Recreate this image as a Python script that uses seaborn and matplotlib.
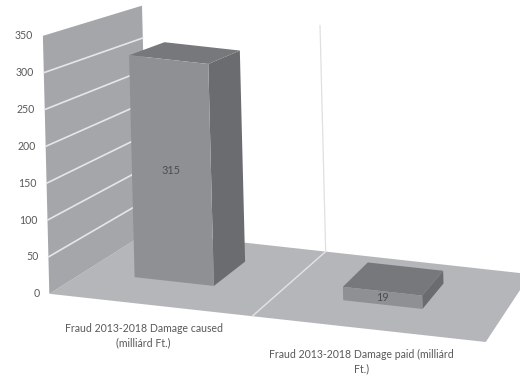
import numpy as np
import pandas as pd
import matplotlib
matplotlib.use("Agg")
import matplotlib.pyplot as plt
import seaborn as sns
from matplotlib.transforms import Affine2D, IdentityTransform
from matplotlib.patches import Polygon, Rectangle
from matplotlib.lines import Line2D

# ---------------- data ----------------
categories = ["Fraud 2013-2018 Damage caused\n(milliárd Ft.)",
              "Fraud 2013-2018 Damage paid (milliárd\nFt.)"]
values = [315, 19]
value_labels = ["315", "19"]
yticks = [0, 50, 100, 150, 200, 250, 300, 350]

# ---------------- style ----------------
sns.set_theme(style="white")
plt.rcParams['font.family'] = ['Lato', 'DejaVu Sans']

TEXT = '#595959'
WALL = '#a5a6aa'
FLOOR = '#b5b6b9'
FRONT = '#8f9094'
SIDE = '#6b6c70'
TOP = '#77787c'

W, H, DPI = 520, 376, 100
fig = plt.figure(figsize=(W / DPI, H / DPI), dpi=DPI)
fig.patch.set_facecolor('white')
ax = fig.add_axes([0, 0, 1, 1])
ax.set_facecolor('none')

df = pd.DataFrame({"category": categories, "value": values})
sns.barplot(data=df, x="category", y="value", color=FRONT, saturation=1,
            width=0.38, errorbar=None, linewidth=0, ax=ax)
bars = [p for p in ax.patches if isinstance(p, Rectangle)]

# ---------------- pseudo-3D geometry ----------------
cat_px, x0 = 217.6, 142.9          # front plane: px per category, x of category 0
val_px, y0 = 0.737, 82.2           # px per value unit, display y of value 0 at wall
x_left, x_right = -0.43, 1.57       # floor extent in category units
ax.set_xlim(-x0 / cat_px, (W - x0) / cat_px)
ax.set_ylim(-y0 / val_px, (H - y0) / val_px)
ax.set_autoscale_on(False)

x_anchor = x0 + x_left * cat_px
k = 24.1 / cat_px
lean = -0.025
shear = (Affine2D.from_values(1, -k, 0, 1, 0, k * x_anchor)
         + Affine2D.from_values(1, 0, lean, 1, -lean * y0, 0))
base = ax.transData + shear
VP = np.array([850.0, H + 210.0])
W_FRONT, W_BAR0, W_BAR1, W_BACK = 1.0, 1.046, 1.10, 1.14


def persp(w):
    return Affine2D().translate(-VP[0], -VP[1]).scale(1 / w).translate(VP[0], VP[1])


def proj(xs, ys, ws):
    p = base.transform(np.column_stack([xs, ys]))
    ws = np.asarray(ws, dtype=float)[:, None]
    return VP + (p - VP) / ws


def face(pts, color, z):
    poly = Polygon(pts, closed=True, facecolor=color, edgecolor='none',
                   transform=IdentityTransform(), zorder=z, snap=False)
    ax.add_artist(poly)


def line(pts, color, lw, z):
    ax.add_artist(Line2D(pts[:, 0], pts[:, 1], color=color, lw=lw,
                         transform=IdentityTransform(), zorder=z))


ymax = yticks[-1]
# floor
face(proj([x_left, x_right, x_right, x_left], [0, 0, 0, 0],
          [W_FRONT, W_FRONT, W_BACK, W_BACK]), FLOOR, 0.5)
# side wall
face(proj([x_left] * 4, [0, ymax, ymax, 0],
          [W_FRONT, W_FRONT, W_BACK, W_BACK]), WALL, 0.6)

# back wall vertical gridline and floor divider at category boundary
mid = 0.5
line(proj([mid, mid], [0, ymax], [W_BACK, W_BACK]), '#e0e0e0', 0.9, 0.55)
line(proj([mid, mid], [0, 0], [W_FRONT, W_BACK]), '#e4e4e6', 1.0, 0.7)
# side wall gridlines
for v in yticks[1:-1]:
    line(proj([x_left, x_left], [v, v], [W_FRONT, W_BACK]), '#e6e6e8', 1.2, 0.7)

# bars: front faces from seaborn, depth faces derived from them
for i, patch in enumerate(bars):
    bx, bw, bh = patch.get_x(), patch.get_width(), patch.get_height()
    patch.set_transform(base + persp(W_BAR0))
    patch.set_snap(False)
    patch.set_zorder(2.1)
    patch.set_clip_on(False)
    face(proj([bx + bw] * 4, [0, bh, bh, 0], [W_BAR0, W_BAR0, W_BAR1, W_BAR1]), SIDE, 2.0)
    face(proj([bx, bx + bw, bx + bw, bx], [bh] * 4, [W_BAR0, W_BAR0, W_BAR1, W_BAR1]), TOP, 2.0)
    ax.text(bx + bw / 2, bh / 2, value_labels[i], transform=base + persp(W_BAR0),
            ha='center', va='center', fontsize=7.8, color='#4d4d4d', zorder=5)

# category labels below the floor (label line slightly steeper than floor edge)
k_lab = 26.0 / cat_px
lab_tr = base + Affine2D.from_values(1, -(k_lab - k), 0, 1, 0, (k_lab - k) * x0)
for i, lab in enumerate(categories):
    ax.text(i, -26, lab, transform=lab_tr, ha='center', va='top', fontsize=7.6,
            color=TEXT, linespacing=1.3, multialignment='center', zorder=5)

# value axis labels on the side wall's front edge
tick_tr = base + Affine2D().translate(-10, 0)
for t in yticks:
    ax.text(x_left, t, str(t), transform=tick_tr, ha='right', va='center',
            fontsize=7.6, color=TEXT, zorder=5)

ax.set_axis_off()

fig.savefig('out.png', dpi=DPI)
